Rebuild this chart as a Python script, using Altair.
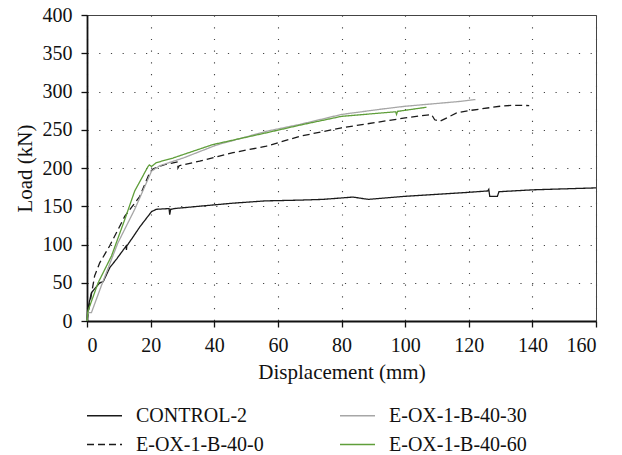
import altair as alt
import pandas as pd

names = ["CONTROL-2", "E-OX-1-B-40-0", "E-OX-1-B-40-30", "E-OX-1-B-40-60"]
colors = ["#1a1a1a", "#1a1a1a", "#a6a6a6", "#5f9e3a"]
dashes = [[1, 0], [7, 4], [1, 0], [1, 0]]

ctrl_x = [0, 0.2, 1.4, 4.0, 5.1, 7.2, 9.3, 12.3, 12.4, 12.5, 14.5, 16.6, 20.3, 21.8, 25.8, 26.0, 26.3, 27.5,
          35.3, 45.8, 56.0, 66.9, 74.2, 83.6, 88.4, 100.0, 119.3, 126.0, 126.3, 126.6, 129.0, 129.5, 140.3, 160.0]
ctrl_y = [0, 15, 37, 50, 51.5, 70, 81, 98, 93, 98, 110, 123, 143, 146, 147, 139, 146, 147,
          150, 154, 157, 158, 159, 162, 159, 163, 168, 170, 172, 163, 163, 169, 171.5, 174]

e0_x = [0, 0.3, 2.4, 4.0, 7.1, 9.2, 11.9, 16.6, 19.7, 20.8, 24.4, 28.5, 28.6, 29.0, 35.4, 45.9, 56.4,
        66.9, 80.0, 100.0, 108.3, 109.3, 110.9, 116.2, 120.0, 129.8, 134.0, 139.0]
e0_y = [0, 9, 59, 76, 98, 115, 137, 163, 194, 199, 204.5, 208, 200, 203, 209, 220, 228.5,
        241.5, 252.5, 265.5, 270, 263, 261, 272, 275, 280.7, 282, 281.6]

e30_x = [0, 0.3, 1.4, 4.5, 9.7, 15.0, 20.3, 22.9, 30.2, 40.7, 56.4, 66.9, 80.0, 92.6, 100.0, 117.2, 122.1]
e30_y = [0, 11, 11, 46, 102, 146, 196, 203, 213, 230, 248, 257, 270, 277, 280.7, 287, 289.5]

e60_x = [0, 0.3, 3.5, 7.7, 11.9, 15.0, 19.2, 19.6, 20.3, 21.8, 27.0, 39.6, 56.4, 66.9, 80.0, 97.0, 97.3, 97.6, 106.7]
e60_y = [0, 13, 50, 85, 133, 170, 202, 204, 202, 207, 213, 230.7, 246, 256, 267.5, 273.5, 270, 274, 279.4]

x_ticks = [0, 20, 40, 60, 80, 100, 120, 140, 160]
y_ticks = [0, 50, 100, 150, 200, 250, 300, 350, 400]

series = [
    ("CONTROL-2", ctrl_x, ctrl_y),
    ("E-OX-1-B-40-0", e0_x, e0_y),
    ("E-OX-1-B-40-30", e30_x, e30_y),
    ("E-OX-1-B-40-60", e60_x, e60_y),
]
rows = []
for name, xs, ys in series:
    for i, (x, y) in enumerate(zip(xs, ys)):
        rows.append({"series": name, "x": x, "y": y, "order": i})
df = pd.DataFrame(rows)

FONT = "Liberation Serif, Times New Roman, serif"

legend = alt.Legend(
    title=None, orient="none", legendX=-1, legendY=382, columns=2,
    symbolType="stroke", symbolSize=1225, symbolStrokeWidth=1.3,
    labelFont=FONT, labelFontSize=20, labelColor="#111", labelOffset=13,
    columnPadding=73, rowPadding=-1,
)

chart = alt.Chart(df).mark_line(strokeWidth=1.3).encode(
    x=alt.X("x:Q", scale=alt.Scale(domain=[0, 160], nice=False),
            axis=alt.Axis(values=x_ticks, title="Displacement (mm)", titlePadding=6, labelPadding=8)),
    y=alt.Y("y:Q", scale=alt.Scale(domain=[0, 400], nice=False),
            axis=alt.Axis(values=y_ticks, title="Load (kN)", titlePadding=7, labelPadding=9)),
    color=alt.Color("series:N", scale=alt.Scale(domain=names, range=colors), legend=legend),
    strokeDash=alt.StrokeDash("series:N", scale=alt.Scale(domain=names, range=dashes), legend=legend),
    order="order:Q",
).properties(
    width=509, height=306,
    autosize=alt.AutoSizeParams(type="none"),
    padding={"left": 87, "top": 15, "right": 26, "bottom": 134},
).configure_view(
    stroke="#444", strokeWidth=1,
).configure_axis(
    domainColor="#111", domainWidth=1.8, tickColor="#111", tickWidth=1.3, tickSize=6,
    grid=True, gridColor="#444", gridDash=[1.2, 10.5], gridWidth=1.1,
    labelFont=FONT, labelFontSize=20, labelColor="#111",
    titleFont=FONT, titleFontSize=21, titleFontWeight="normal", titleColor="#111",
)

chart.save("out.html", embed_options={"renderer": "svg", "actions": False})
